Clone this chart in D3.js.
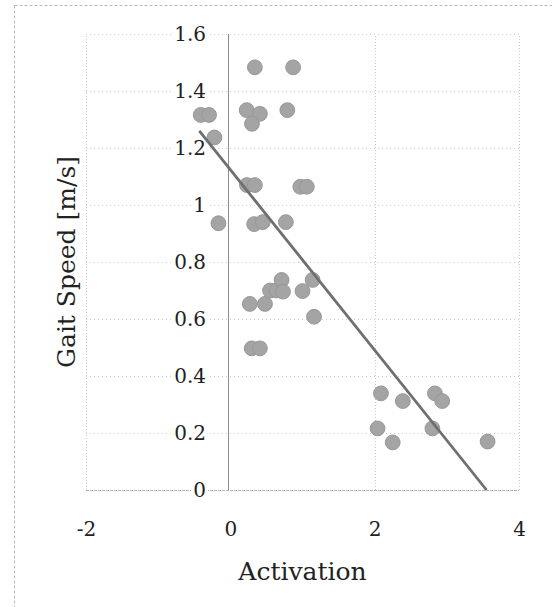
<!DOCTYPE html>
<html>
<head>
<meta charset="utf-8">
<script src="https://cdn.jsdelivr.net/npm/d3@7"></script>
<style>
  body { margin: 0; background: #fff; }
  text { font-family: "DejaVu Serif", "Liberation Serif", serif; fill: #222; }
</style>
</head>
<body>
<div id="chart"></div>
<script>
// activation vs gait speed
var activation = [0.34, 0.87, -0.41, -0.295, 0.227, 0.41, 0.30, 0.79, -0.22,
    0.23, 0.34, 0.97, 1.06, -0.165, 0.33, 0.45, 0.77,
    0.27, 0.48, 0.55, 0.64, 0.71, 0.73, 1.0, 1.14, 1.16, 0.296, 0.41,
    2.087, 2.39, 2.835, 2.936, 2.04, 2.25, 2.80, 3.565];
var gaitSpeed = [1.483, 1.483, 1.316, 1.316, 1.333, 1.32, 1.285, 1.333, 1.237,
    1.07, 1.07, 1.064, 1.064, 0.936, 0.933, 0.94, 0.94,
    0.653, 0.653, 0.70, 0.70, 0.737, 0.696, 0.698, 0.737, 0.608, 0.497, 0.497,
    0.339, 0.312, 0.339, 0.312, 0.216, 0.167, 0.216, 0.17];

// fitted trend line end points
var trendX = [-0.43, 3.55];
var trendY = [1.26, 0];

var xTicks = [-2, 0, 2, 4];
var yTicks = [0, 0.2, 0.4, 0.6, 0.8, 1, 1.2, 1.4, 1.6];

var W = 552, H = 607;

var x = d3.scaleLinear().domain([-2, 4]).range([86, 519]);
var y = d3.scaleLinear().domain([0, 1.6]).range([490, 34]);

var svg = d3.select("#chart").append("svg")
    .attr("width", W).attr("height", H);

svg.append("rect").attr("width", W).attr("height", H).style("fill", "#fff");

// outer frame
svg.append("rect")
    .attr("x", 14.5).attr("y", 5.5)
    .attr("width", W + 20).attr("height", H + 20)
    .style("fill", "none")
    .style("stroke", "#b8b8b8")
    .style("stroke-dasharray", "3,2");

// horizontal grid
svg.append("g").selectAll("line")
    .data(yTicks)
    .enter()
    .append("line")
    .attr("x1", x(-2)).attr("x2", x(4))
    .attr("y1", function(d){ return Math.round(y(d)) + 0.5; })
    .attr("y2", function(d){ return Math.round(y(d)) + 0.5; })
    .style("stroke", function(d){ return d === 0 ? "#b4b4b4" : "#cfcfcf"; })
    .style("stroke-dasharray", function(d){ return d === 0 ? "3,1" : "1,3"; });

// vertical grid
svg.append("g").selectAll("line")
    .data(xTicks.filter(function(d){ return d !== 0; }))
    .enter()
    .append("line")
    .attr("x1", function(d){ return Math.round(x(d)) + 0.5; })
    .attr("x2", function(d){ return Math.round(x(d)) + 0.5; })
    .attr("y1", y(0)).attr("y2", y(1.6))
    .style("stroke", "#c8c8c8")
    .style("stroke-dasharray", "1,2");

// y axis line at x = 0
svg.append("line")
    .attr("x1", Math.round(x(0)) - 1.5).attr("x2", Math.round(x(0)) - 1.5)
    .attr("y1", y(0)).attr("y2", y(1.6))
    .style("stroke", "#8c8c8c");

// y tick labels, sitting on the grid with a white patch behind
var yAxis = svg.append("g")
    .attr("transform", "translate(206,0)")
    .call(d3.axisLeft(y).tickValues(yTicks).tickSize(0).tickPadding(0)
        .tickFormat(function(d){ return String(d); }));
yAxis.select(".domain").remove();
yAxis.selectAll("text")
    .style("font-family", '"DejaVu Serif", serif')
    .style("font-size", "20px")
    .style("fill", "#222");
yAxis.selectAll(".tick").each(function(){
    var t = d3.select(this).select("text");
    var b = t.node().getBBox();
    d3.select(this).insert("rect", "text")
        .attr("x", b.x - 2).attr("y", b.y + 2)
        .attr("width", b.width + 4).attr("height", b.height - 4)
        .style("fill", "#fff");
});

// x tick labels
var xAxis = svg.append("g")
    .attr("transform", "translate(0,522)")
    .call(d3.axisBottom(x).tickValues(xTicks).tickSize(0).tickPadding(0)
        .tickFormat(function(d){ return d < 0 ? "-" + Math.abs(d) : String(d); }));
xAxis.select(".domain").remove();
xAxis.selectAll("text")
    .style("font-family", '"DejaVu Serif", serif')
    .style("font-size", "20px")
    .style("fill", "#222");

// points
svg.append("g").selectAll("circle")
    .data(activation.map(function(a, i){ return {a: a, g: gaitSpeed[i]}; }))
    .enter()
    .append("circle")
    .attr("cx", function(d){ return x(d.a); })
    .attr("cy", function(d){ return y(d.g); })
    .attr("r", 7.4)
    .style("fill", "#a4a4a4")
    .style("stroke", "#979797")
    .style("stroke-width", 1);

// trend line
svg.append("line")
    .attr("x1", x(trendX[0])).attr("y1", y(trendY[0]))
    .attr("x2", x(trendX[1])).attr("y2", y(trendY[1]))
    .style("stroke", "#6f6f6f")
    .style("stroke-width", 2.8);

// axis titles
svg.append("text")
    .attr("x", (x(-2) + x(4)) / 2)
    .attr("y", 580)
    .attr("text-anchor", "middle")
    .style("font-size", "25px")
    .text("Activation");

svg.append("text")
    .attr("transform", "translate(75," + (y(0) + y(1.6)) / 2 + ") rotate(-90)")
    .attr("text-anchor", "middle")
    .style("font-size", "25px")
    .text("Gait Speed [m/s]");
</script>
</body>
</html>
